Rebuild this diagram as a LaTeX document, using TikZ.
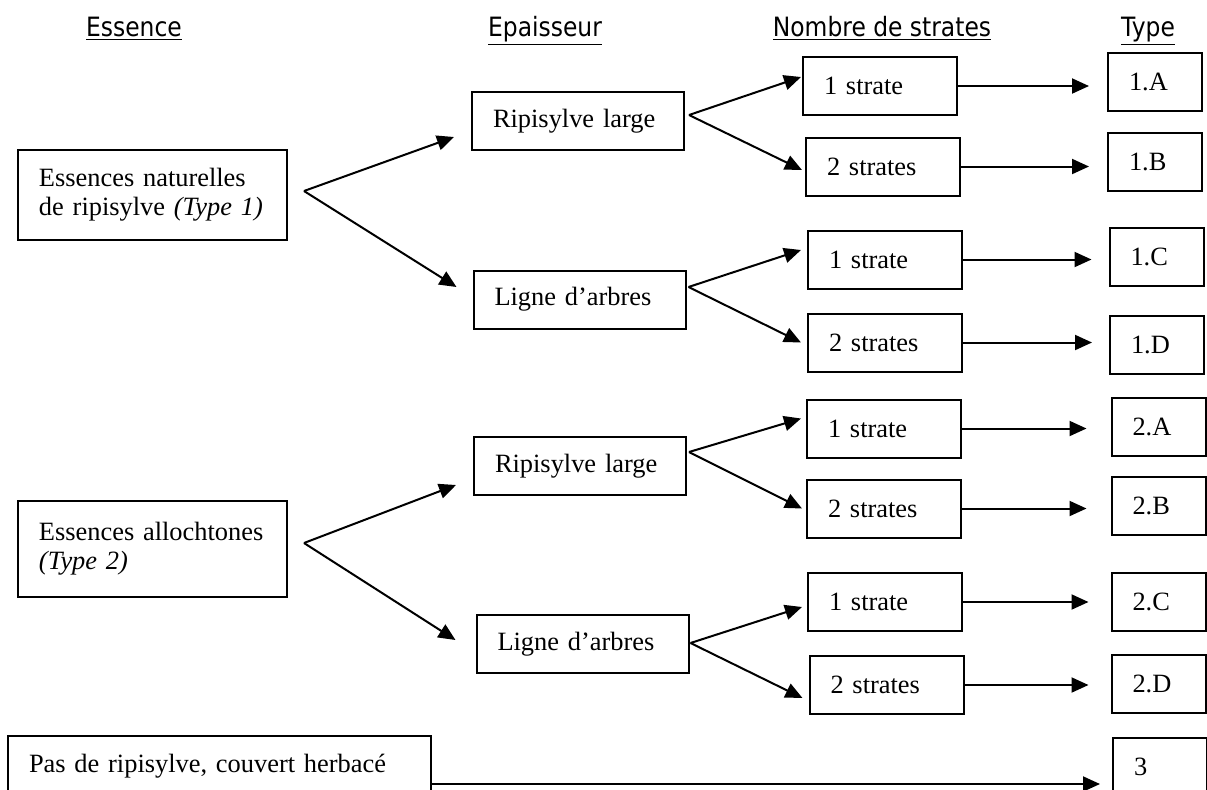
\documentclass[tikz,border=0pt]{standalone}
\usepackage{fontspec}
\setmainfont{Liberation Serif}
\newfontfamily\headfont[FakeStretch=0.88]{DejaVu Sans}
\usetikzlibrary{arrows.meta}

\begin{document}
\begin{tikzpicture}[x=0.5pt,y=-0.5pt,
		font=\fontsize{13.2}{14.5}\selectfont,
		box/.style={draw,line width=1pt,rectangle,inner xsep=10.5pt,inner ysep=0pt,align=left},
		essbox/.style={box,text width=113.5pt,minimum height=45pt},
		epbox/.style={box,text width=85pt,minimum height=29pt},
		strbox/.style={box,text width=56pt,minimum height=29pt},
		typbox/.style={box,text width=26pt,minimum height=29pt},
		head/.style={font=\headfont\fontsize{13.3}{15}\selectfont,anchor=base},
		arr/.style={line width=1pt,-{Triangle[length=8.5pt,width=7.5pt]}}]
			\useasboundingbox (0,0) rectangle (1207,789);
			
			\node[head] (hess) at (134,36) {\underline{Essence}};
			\node[head] (hep) at (545,36) {\underline{Epaisseur}};
			\node[head] (hnb) at (882,36) {\underline{Nombre de strates}};
			\node[head] (hty) at (1148,36) {\underline{Type}};
			
			\node[essbox] (ess1) at (152.5,195) {Essences naturelles\\de ripisylve \textit{(Type 1)}};
			\node[essbox,minimum height=48pt] (ess2) at (152.5,549) {Essences allochtones\\\textit{(Type 2)}};
			\node[box,text width=190.5pt,minimum height=30pt,anchor=north west] (pas) at (7,735) {Pas de ripisylve, couvert herbacé};
			
			\node[epbox] (rip1) at (578,121) {Ripisylve large};
			\node[epbox] (lig1) at (579.5,299.5) {Ligne d'arbres};
			\node[epbox] (rip2) at (580,466) {Ripisylve large};
			\node[epbox] (lig2) at (582.5,644) {Ligne d'arbres};
			
			\node[strbox] (s1a) at (880,86) {1 strate};
			\node[strbox] (s1b) at (883,166.5) {2 strates};
			\node[strbox] (s1c) at (885,259.5) {1 strate};
			\node[strbox] (s1d) at (885,342.5) {2 strates};
			\node[strbox] (s2a) at (884,428.5) {1 strate};
			\node[strbox] (s2b) at (884,508.5) {2 strates};
			\node[strbox] (s2c) at (885,602) {1 strate};
			\node[strbox] (s2d) at (886.5,685) {2 strates};
			
			\node[typbox] (t1a) at (1155,82) {1.A};
			\node[typbox] (t1b) at (1155,162) {1.B};
			\node[typbox] (t1c) at (1156.5,257) {1.C};
			\node[typbox] (t1d) at (1157,344.5) {1.D};
			\node[typbox] (t2a) at (1158.5,427) {2.A};
			\node[typbox] (t2b) at (1158.5,506) {2.B};
			\node[typbox] (t2c) at (1158.5,601.5) {2.C};
			\node[typbox] (t2d) at (1158.5,684) {2.D};
			\node[typbox,anchor=north west] (t3) at (1112,737) {3};
			
			\coordinate (ess1f) at ([shift={(16,-4)}]ess1.east);
			\coordinate (ess2f) at ([shift={(16,-6)}]ess2.east);
			\coordinate (rip1f) at ([shift={(4,-6)}]rip1.east);
			\coordinate (lig1f) at ([shift={(2,-12.5)}]lig1.east);
			\coordinate (rip2f) at ([shift={(2,-14)}]rip2.east);
			\coordinate (lig2f) at ([shift={(1,-1)}]lig2.east);
			
			\draw[arr] (ess1f) -- ([shift={(-17,16)}]rip1.west);
			\draw[arr] (ess1f) -- ([shift={(-16,-12.5)}]lig1.west);
			\draw[arr] (ess2f) -- ([shift={(-17,19)}]rip2.west);
			\draw[arr] (ess2f) -- ([shift={(-20,-4)}]lig2.west);
			
			\draw[arr] (rip1f) -- ([shift={(-1,-9)}]s1a.west);
			\draw[arr] (rip1f) -- ([shift={(-3,3.5)}]s1b.west);
			\draw[arr] (lig1f) -- ([shift={(-6,-9.5)}]s1c.west);
			\draw[arr] (lig1f) -- ([shift={(-6,0)}]s1d.west);
			\draw[arr] (rip2f) -- ([shift={(-5,-10)}]s2a.west);
			\draw[arr] (rip2f) -- ([shift={(-4,0)}]s2b.west);
			\draw[arr] (lig2f) -- ([shift={(-5,5)}]s2c.west);
			\draw[arr] (lig2f) -- ([shift={(-6,13)}]s2d.west);
			
			\draw[arr] (s1a.east) -- ([xshift=-9pt]s1a.east -| t1a.west);
			\draw[arr] (s1b.east) -- ([xshift=-9pt]s1b.east -| t1b.west);
			\draw[arr] (s1c.east) -- ([xshift=-8.5pt]s1c.east -| t1c.west);
			\draw[arr] (s1d.east) -- ([xshift=-8.5pt]s1d.east -| t1d.west);
			\draw[arr] (s2a.east) -- ([xshift=-12pt]s2a.east -| t2a.west);
			\draw[arr] (s2b.east) -- ([xshift=-12pt]s2b.east -| t2b.west);
			\draw[arr] (s2c.east) -- ([xshift=-11pt]s2c.east -| t2c.west);
			\draw[arr] (s2d.east) -- ([xshift=-11pt]s2d.east -| t2d.west);
			
			\draw[arr] ([yshift=-9pt]pas.east) -- ([xshift=-6pt,yshift=-9pt]pas.east -| t3.west);
		\end{tikzpicture}
\end{document}
